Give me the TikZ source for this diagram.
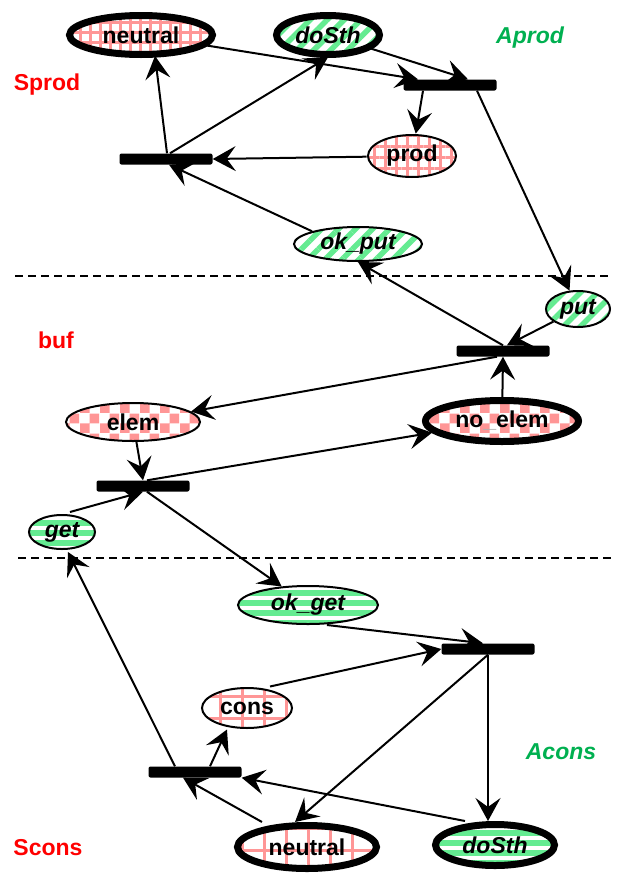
\documentclass[tikz,border=0pt]{standalone}
\usepackage{fontspec}
\setmainfont{Liberation Sans}
\usetikzlibrary{calc}
\usetikzlibrary{positioning}
\usetikzlibrary{shapes.geometric}
\usetikzlibrary{arrows.meta}
\usetikzlibrary{patterns,patterns.meta}

\definecolor{pinkfill}{RGB}{255,150,150}
\definecolor{greenfill}{RGB}{100,235,145}
\definecolor{actgreen}{RGB}{0,176,80}

\pgfdeclarepattern{
  name=checks,
  type=uncolored,
  bottom left={\pgfpoint{0pt}{0pt}},
  top right={\pgfpoint{20pt}{20pt}},
  tile size={\pgfpoint{20pt}{20pt}},
  code={
    \pgfpathrectangle{\pgfpoint{0pt}{0pt}}{\pgfpoint{10pt}{10pt}}
    \pgfpathrectangle{\pgfpoint{10pt}{10pt}}{\pgfpoint{10pt}{10pt}}
    \pgfusepath{fill}
  }
}

\begin{document}
\begin{tikzpicture}[x=1pt, y=-1pt,
  placenode/.style={ellipse, draw, line width=2pt, inner sep=0pt,
    font=\fontsize{23}{26}\selectfont\bfseries},
  homenode/.style={placenode, line width=7pt},
  pinkgrid/.style={pattern={Hatch[angle=0,distance=#1,line width=3pt]}, pattern color=pinkfill},
  checked/.style={pattern=checks, pattern color=pinkfill},
  greendiag/.style={pattern={Lines[angle=45,distance=12pt,line width=5.5pt]}, pattern color=greenfill},
  greenhoriz/.style={pattern={Lines[angle=0,distance=10pt,line width=6pt]}, pattern color=greenfill},
  transbar/.style={rectangle, fill=black, rounded corners=2pt,
    minimum width=\barLen, minimum height=\barHt, inner sep=0pt},
  flow/.style={line width=2pt, -{Stealth[length=23pt,width=25pt,inset=9pt]}},
  sectline/.style={line width=1.5pt, dash pattern=on 8pt off 5pt},
  sidelabel/.style={font=\fontsize{23}{26}\selectfont\bfseries, text=red},
  actlabel/.style={font=\fontsize{23}{26}\selectfont\bfseries\itshape, text=actgreen}]

\newcommand{\barLen}{93pt}  % 变迁的长度
\newcommand{\barHt}{11pt}   % 变迁的厚度

\useasboundingbox (0,0) rectangle (628,873);

% 分区虚线
\coordinate (L1a) at (15,276);
\coordinate (L1b) at (612,276);
\coordinate (L2a) at (18,558);
\coordinate (L2b) at (612,558);
\draw[sectline] (L1a) -- (L1b);
\draw[sectline] (L2a) -- (L2b);

% 库所
\node[homenode, pinkgrid=10pt, minimum width=143pt, minimum height=39pt] (neutralA) at (141,35) {neutral};
\node[homenode, greendiag, minimum width=103pt, minimum height=39pt] (doSthA) at (328,35) {\itshape doSth};
\node[placenode, pinkgrid=11pt, minimum width=88pt, minimum height=42pt] (prod) at (412,156) {prod};
\node[placenode, greendiag, minimum width=128pt, minimum height=34pt] (okput) at (358,244) {\itshape ok\_put};
\node[placenode, greendiag, minimum width=64pt, minimum height=36pt] (put) at (578,309) {\itshape put};
\node[placenode, checked, minimum width=134pt, minimum height=38pt] (elem) at (133,422) {elem};
\node[homenode, checked, minimum width=153pt, minimum height=41pt] (noelem) at (502,421) {no\textcolor{black!30}{\_}elem};
\node[placenode, greenhoriz, minimum width=66pt, minimum height=34pt] (get) at (62,532) {\itshape get};
\node[placenode, greenhoriz, minimum width=140pt, minimum height=38pt] (okget) at (308,605) {\itshape ok\_get};
\node[placenode, pinkgrid=22pt, minimum width=90pt, minimum height=40pt] (cons) at (247,708) {cons};
\node[homenode, pinkgrid=22pt, minimum width=139pt, minimum height=43pt] (neutralB) at (307,847) {neutral};
\node[homenode, greenhoriz, minimum width=119pt, minimum height=41pt] (doSthB) at (495,845) {\itshape doSth};

% 变迁
\node[transbar] (T1) at (450,85) {};
\node[transbar] (T2) at (166,159) {};
\node[transbar] (T3) at (503,351) {};
\node[transbar] (T4) at (143,486) {};
\node[transbar] (T5) at (488,649) {};
\node[transbar] (T6) at (195,772) {};

% 标签
\node[sidelabel] (sprod) at (47,85) {Sprod};
\node[actlabel] (aprod) at (530,38) {Aprod};
\node[sidelabel] (buf) at (56,340) {buf};
\node[actlabel] (acons) at (561,752) {Acons};
\node[sidelabel] (scons) at (48,848) {Scons};

% 生产者
\draw[flow] (neutralA) -- ([xshift=-32pt]T1.north);
\draw[flow] (doSthA) -- ([xshift=18pt]T1.north);
\draw[flow] ([xshift=-27pt]T1.south) -- (prod);
\draw[flow] ([xshift=27pt]T1.south) -- (put);
\draw[flow] (prod) -- (T2.east);
\draw[flow] ([xshift=1pt]T2.north) -- ([xshift=14pt]neutralA.south);
\draw[flow] ([xshift=4pt]T2.north) -- (doSthA.south);
\draw[flow] (okput.north west) -- ([xshift=3pt]T2.south);

% 缓冲区
\draw[flow] (put) -- ([xshift=4pt]T3.north);
\draw[flow] (T3.north) -- (okput.south);
\draw[flow] (noelem) -- (T3.south);
\draw[flow] ([xshift=-6pt]T3.south) -- (elem);
\draw[flow] (elem) -- (T4.north);
\draw[flow] ([xshift=8pt]get.north) -- (T4.south);
\draw[flow] ([xshift=4pt]T4.north) -- (noelem);
\draw[flow] ([xshift=4pt]T4.south) -- (okget);

% 消费者
\draw[flow] ([xshift=19pt]okget.south) -- ([xshift=-5pt]T5.north);
\draw[flow] ([xshift=23pt]cons.north) -- (T5.west);
\draw[flow] (T5.south) -- ([xshift=-12pt]neutralB.north);
\draw[flow] (T5.south) -- (T5.south |- doSthB.north);
\draw[flow] ([xshift=15pt]T6.north) -- ([xshift=-20pt]cons.south);
\draw[flow] ([xshift=-45pt]neutralB.north) -- ([xshift=-12pt]T6.south);
\draw[flow] ([xshift=-30pt]doSthB.north) -- (T6.south east);
\draw[flow] ([xshift=-20pt]T6.north) -- ([xshift=6pt]get.south);

\end{tikzpicture}
\end{document}
